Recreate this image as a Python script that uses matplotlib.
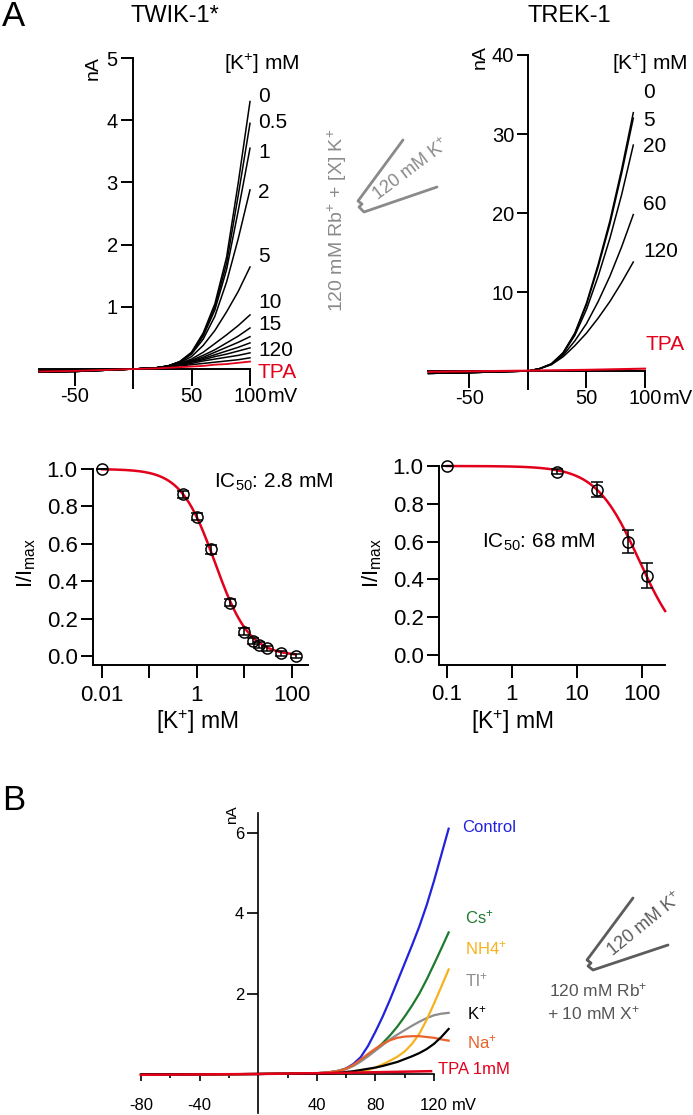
import matplotlib
matplotlib.use('Agg')
import matplotlib.pyplot as plt
import numpy as np
from matplotlib.lines import Line2D
from matplotlib.ticker import NullLocator

plt.rcParams['font.family'] = ['Liberation Sans', 'DejaVu Sans']
plt.rcParams['mathtext.fontset'] = 'custom'
plt.rcParams['mathtext.rm'] = 'Liberation Sans'
plt.rcParams['mathtext.it'] = 'Liberation Sans:italic'
plt.rcParams['mathtext.bf'] = 'Liberation Sans:bold'

# ---------------- data ----------------
# A, TWIK-1* I-V traces (nA) at voltages (mV)
twik_v = [-80, -50, -25, 0, 20, 30, 40, 50, 60, 70, 80, 90, 100]
twik_conc = ['0', '0.5', '1', '2', '5', '10', '15', '20', '30', '40', '60', '120']
twik_I = [
    [-0.05, -0.04, -0.02, 0, 0.02, 0.05, 0.12, 0.27, 0.58, 1.05, 1.80, 3.00, 4.30],
    [-0.05, -0.04, -0.02, 0, 0.02, 0.05, 0.12, 0.26, 0.55, 1.00, 1.70, 2.80, 3.95],
    [-0.05, -0.04, -0.02, 0, 0.02, 0.05, 0.11, 0.25, 0.53, 0.95, 1.60, 2.55, 3.55],
    [-0.05, -0.04, -0.02, 0, 0.02, 0.05, 0.11, 0.24, 0.48, 0.85, 1.40, 2.10, 2.88],
    [-0.04, -0.03, -0.02, 0, 0.02, 0.05, 0.10, 0.20, 0.38, 0.62, 0.92, 1.25, 1.64],
    [-0.04, -0.03, -0.02, 0, 0.02, 0.04, 0.09, 0.16, 0.27, 0.41, 0.55, 0.70, 0.87],
    [-0.04, -0.03, -0.02, 0, 0.02, 0.04, 0.08, 0.14, 0.22, 0.31, 0.42, 0.53, 0.66],
    [-0.04, -0.03, -0.02, 0, 0.02, 0.04, 0.08, 0.13, 0.19, 0.27, 0.35, 0.43, 0.52],
    [-0.03, -0.03, -0.01, 0, 0.02, 0.04, 0.07, 0.12, 0.17, 0.23, 0.29, 0.35, 0.42],
    [-0.03, -0.02, -0.01, 0, 0.02, 0.04, 0.07, 0.11, 0.15, 0.20, 0.24, 0.29, 0.34],
    [-0.03, -0.02, -0.01, 0, 0.02, 0.04, 0.06, 0.09, 0.13, 0.16, 0.19, 0.22, 0.26],
    [-0.03, -0.02, -0.01, 0, 0.02, 0.03, 0.05, 0.07, 0.09, 0.11, 0.13, 0.15, 0.18],
]
twik_tpa = [-0.04, -0.03, -0.015, 0, 0.01, 0.02, 0.03, 0.04, 0.05, 0.07, 0.08, 0.10, 0.12]

# A, TREK-1 I-V traces
trek_v = [-85, -50, -25, 0, 10, 20, 30, 40, 50, 60, 70, 80, 90]
trek_conc = ['0', '5', '20', '60', '120']
trek_I = [
    [-0.3, -0.2, -0.1, 0, 0.3, 0.9, 2.3, 4.8, 8.6, 13.5, 19.0, 25.5, 32.7],
    [-0.3, -0.2, -0.1, 0, 0.3, 0.9, 2.3, 4.7, 8.4, 13.2, 18.6, 25.0, 32.0],
    [-0.3, -0.2, -0.1, 0, 0.3, 0.9, 2.2, 4.5, 7.8, 12.0, 16.8, 22.3, 28.6],
    [-0.3, -0.2, -0.1, 0, 0.3, 0.85, 2.0, 3.8, 6.0, 8.8, 12.0, 15.7, 19.8],
    [-0.3, -0.2, -0.1, 0, 0.3, 0.8, 1.8, 3.2, 4.8, 6.7, 8.8, 11.2, 13.8],
]
trek_tpa_v = [-85, 0, 50, 100]
trek_tpa = [-0.1, 0.05, 0.15, 0.3]

# A, dose-response
twik_dr_k = [0.01, 0.5, 1, 2, 5, 10, 15, 20, 30, 60, 120]
twik_dr_y = [1.0, 0.865, 0.745, 0.57, 0.285, 0.13, 0.082, 0.059, 0.041, 0.014, 0.0]
twik_dr_err = [0.0, 0.02, 0.02, 0.025, 0.02, 0.02, 0.015, 0.015, 0.015, 0.012, 0.012]
twik_ic50_fit, twik_hill = 2.4, 1.2

trek_dr_k = [0.1, 5, 20, 60, 120]
trek_dr_y = [1.0, 0.97, 0.875, 0.60, 0.42]
trek_dr_err = [0.0, 0.012, 0.04, 0.06, 0.065]
trek_ic50_fit, trek_hill = 90.0, 1.3

# B, TWIK-1* I-V with 10 mM X+
b_v = [-80, -40, 0, 20, 40, 45, 50, 55, 60, 65, 70, 75, 80, 85, 90, 95, 100,
       105, 110, 115, 120, 125, 130]
b_I = {
    'Control': [-0.02, -0.01, 0, 0.01, 0.02, 0.03, 0.05, 0.08, 0.14, 0.25, 0.42, 0.70, 1.05,
                1.43, 1.85, 2.30, 2.75, 3.20, 3.67, 4.20, 4.80, 5.45, 6.10],
    'Cs':      [-0.02, -0.01, 0, 0.01, 0.02, 0.03, 0.05, 0.08, 0.13, 0.22, 0.33, 0.46, 0.60,
                0.77, 0.96, 1.18, 1.43, 1.70, 2.00, 2.35, 2.73, 3.12, 3.52],
    'NH4':     [-0.02, -0.01, 0, 0.01, 0.01, 0.01, 0.01, 0.02, 0.03, 0.04, 0.06, 0.10, 0.16,
                0.24, 0.33, 0.43, 0.56, 0.75, 1.00, 1.35, 1.75, 2.17, 2.60],
    'Tl':      [-0.02, -0.01, 0, 0.01, 0.02, 0.03, 0.05, 0.08, 0.12, 0.20, 0.31, 0.44, 0.58,
                0.72, 0.86, 0.98, 1.09, 1.20, 1.30, 1.39, 1.46, 1.50, 1.52],
    'K':       [-0.02, -0.01, 0, 0.01, 0.01, 0.01, 0.02, 0.03, 0.05, 0.07, 0.10, 0.13, 0.16,
                0.20, 0.25, 0.30, 0.37, 0.44, 0.52, 0.62, 0.75, 0.92, 1.12],
    'Na':      [-0.02, -0.01, 0, 0.01, 0.02, 0.03, 0.05, 0.08, 0.13, 0.23, 0.36, 0.50, 0.63,
                0.75, 0.84, 0.90, 0.93, 0.94, 0.94, 0.92, 0.90, 0.86, 0.83],
}
b_tpa_v = [-80, 0, 60, 118]
b_tpa = [-0.02, 0, 0.03, 0.07]

# ---------------- layout helpers ----------------
W, H = 693, 1115
fig = plt.figure(figsize=(W / 100, H / 100), dpi=100)


def rect(x0, y0, x1, y1):
    return [x0 / W, 1 - y1 / H, (x1 - x0) / W, (y1 - y0) / H]


def ftext(x, y, s, **kw):
    fig.text(x / W, 1 - y / H, s, **kw)


def fline(pts, **kw):
    xs = [p[0] / W for p in pts]
    ys = [1 - p[1] / H for p in pts]
    fig.add_artist(Line2D(xs, ys, transform=fig.transFigure, **kw))


RED = '#e3001b'
LW_AX = 1.4


def cross_axes(ax):
    ax.spines['left'].set_position(('data', 0))
    ax.spines['bottom'].set_position(('data', 0))
    for s in ['top', 'right']:
        ax.spines[s].set_visible(False)
    for s in ['left', 'bottom']:
        ax.spines[s].set_linewidth(LW_AX)
    ax.patch.set_alpha(0)


# ---------------- A: TWIK-1* ----------------
ax1 = fig.add_axes(rect(39.4, 58, 250, 387.7))
cross_axes(ax1)
ax1.set_xlim(-80, 100)
ax1.set_ylim(-0.3, 5)
for row in twik_I:
    ax1.plot(twik_v, row, color='black', lw=1.1, clip_on=False)
ax1.plot(twik_v, twik_tpa, color=RED, lw=1.3, clip_on=False, zorder=5)
ax1.set_xticks([-50, 50, 100])
ax1.set_xticklabels(['-50', '50', '100'])
ax1.set_yticks([1, 2, 3, 4, 5])
ax1.set_yticklabels(['1', '2', '3', '4', '5'])
ax1.tick_params(axis='x', direction='out', length=12, width=LW_AX, pad=1, labelsize=14.5)
ax1.tick_params(axis='y', direction='out', length=9, width=LW_AX, pad=2, labelsize=14.5)
ax1.annotate('mV', xy=(100, 0), xycoords='data', xytext=(12.5, -13), textcoords='offset points',
             ha='left', va='top', fontsize=14.5)

ftext(175, 16, 'TWIK-1*', ha='center', va='center', fontsize=17)
ftext(2, 16, 'A', ha='left', va='center', fontsize=25)
ftext(93, 68, 'nA', ha='center', va='center', rotation=90, fontsize=14)
ftext(262, 64, '[K$^{+}$] mM', ha='center', va='center', fontsize=15)
twik_label_y = {'0': 97, '0.5': 122, '1': 153, '2': 193, '5': 257, '10': 302, '15': 325, '120': 350}
for lab, yy in twik_label_y.items():
    ftext(258, yy, lab, ha='left', va='center', fontsize=15)
ftext(258, 373, 'TPA', ha='left', va='center', fontsize=15, color=RED)

# middle solution text + pipette
ftext(337, 220, '120 mM Rb$^{+}$ + [X] K$^{+}$', ha='center', va='center', rotation=90,
      fontsize=14, color='#8a8a8a')
fline([(403, 140), (358, 201), (362, 204), (359, 207), (364, 212), (437, 187)],
      color='#8a8a8a', lw=2.0, solid_capstyle='round')
ftext(411, 170, '120 mM K$^{+}$', ha='center', va='center', rotation=37, fontsize=13,
      color='#8a8a8a')

# ---------------- A: TREK-1 ----------------
ax2 = fig.add_axes(rect(428.5, 55, 645, 389.2))
cross_axes(ax2)
ax2.set_xlim(-85, 100)
ax2.set_ylim(-2.3, 40)
for row in trek_I:
    ax2.plot(trek_v, row, color='black', lw=1.1, clip_on=False)
ax2.plot(trek_tpa_v, trek_tpa, color=RED, lw=1.5, clip_on=False, zorder=5)
ax2.set_xticks([-50, 50, 100])
ax2.set_xticklabels(['-50', '50', '100'])
ax2.set_yticks([10, 20, 30, 40])
ax2.set_yticklabels(['10', '20', '30', '40'])
ax2.tick_params(axis='x', direction='out', length=12, width=LW_AX, pad=1, labelsize=14.5)
ax2.tick_params(axis='y', direction='out', length=8, width=LW_AX, pad=2, labelsize=14.5)
ax2.annotate('mV', xy=(100, 0), xycoords='data', xytext=(12.5, -13), textcoords='offset points',
             ha='left', va='top', fontsize=14.5)
ftext(569, 16, 'TREK-1', ha='center', va='center', fontsize=17)
ftext(480, 57, 'nA', ha='center', va='center', rotation=90, fontsize=14)
ftext(650, 64, '[K$^{+}$] mM', ha='center', va='center', fontsize=15)
trek_label_y = {'0': 93, '5': 120, '20': 147, '60': 205, '120': 252}
for lab, yy in trek_label_y.items():
    ftext(643, yy, lab, ha='left', va='center', fontsize=15)
ftext(646, 345, 'TPA', ha='left', va='center', fontsize=15, color=RED)


# ---------------- dose response ----------------
def dose_axes(r, xlim, xt, xtl, k, y, err, ic50, nh, xfit_max, ic_text, ic_xy, ylab_x, xlab_xy):
    ax = fig.add_axes(rect(*r))
    ax.set_xscale('log')
    ax.set_xlim(*xlim)
    ax.set_ylim(-0.05, 1.0)
    for s in ['top', 'right']:
        ax.spines[s].set_visible(False)
    for s in ['left', 'bottom']:
        ax.spines[s].set_linewidth(LW_AX)
    ax.patch.set_alpha(0)
    xf = np.logspace(np.log10(k[0]), np.log10(xfit_max), 300)
    ax.plot(xf, 1.0 / (1.0 + (xf / ic50) ** nh), color=RED, lw=1.8, clip_on=False, zorder=2)
    ax.errorbar(k, y, yerr=err, fmt='o', mfc='none', mec='black', ecolor='black', ms=8,
                mew=1.1, capsize=4, elinewidth=1.1, capthick=1.1, clip_on=False, zorder=3)
    ax.set_xticks(xt)
    ax.set_xticklabels(xtl)
    ax.xaxis.set_minor_locator(NullLocator())
    ax.set_yticks([0, 0.2, 0.4, 0.6, 0.8, 1.0])
    ax.set_yticklabels(['0.0', '0.2', '0.4', '0.6', '0.8', '1.0'])
    ax.tick_params(axis='both', direction='out', length=9, width=LW_AX, labelsize=16)
    ax.tick_params(axis='x', pad=5)
    ax.tick_params(axis='y', pad=2)
    ftext(ic_xy[0], ic_xy[1], ic_text, ha='center', va='center', fontsize=15)
    ftext(ylab_x, 563, 'I/I$_{\\mathrm{max}}$', ha='center', va='center', rotation=90, fontsize=16)
    ftext(xlab_xy[0], xlab_xy[1], '[K$^{+}$] mM', ha='center', va='center', fontsize=16.5)
    return ax


dose_axes((93, 469, 308, 665.4), (10 ** -2.19, 10 ** 2.34), [0.01, 0.1, 1, 10, 100],
          ['0.01', '', '1', '', '100'], twik_dr_k, twik_dr_y, twik_dr_err,
          twik_ic50_fit, twik_hill, 120, 'IC$_{50}$: 2.8 mM', (274, 482), 26, (197, 722))
dose_axes((439, 466, 665, 664.5), (10 ** -1.12, 10 ** 2.35), [0.1, 1, 10, 100],
          ['0.1', '1', '10', '100'], trek_dr_k, trek_dr_y, trek_dr_err,
          trek_ic50_fit, trek_hill, 225, 'IC$_{50}$: 68 mM', (539, 542), 372, (512, 722))

# ---------------- B ----------------
axb = fig.add_axes(rect(141, 813, 434, 1113))
cross_axes(axb)
axb.set_xlim(-80, 120)
axb.set_ylim(-0.97, 6.49)
b_colors = {'Control': '#2222dd', 'Cs': '#1e7a2e', 'NH4': '#f6b21e', 'Tl': '#8c8c8c',
            'K': '#000000', 'Na': '#e8622a'}
order = ['Control', 'Cs', 'Tl', 'NH4', 'Na', 'K']
for nm in order:
    axb.plot(b_v, b_I[nm], color=b_colors[nm], lw=1.6, clip_on=False)
axb.plot(b_tpa_v, b_tpa, color=RED, lw=1.8, clip_on=False, zorder=5)
axb.set_xticks([-80, -40, 40, 80, 120])
axb.set_xticklabels(['-80', '-40', '40', '80', '120'])
axb.set_xticks([-60, -20, 20, 60, 100], minor=True)
axb.set_yticks([2, 4, 6])
axb.set_yticklabels(['2', '4', '6'])
axb.tick_params(axis='x', which='major', direction='out', length=5, width=1.2, pad=12, labelsize=12)
axb.tick_params(axis='x', which='minor', direction='out', length=3, width=1.2)
axb.tick_params(axis='y', direction='out', length=8, width=1.2, pad=2, labelsize=12)
axb.spines['left'].set_linewidth(1.2)
axb.spines['bottom'].set_linewidth(1.2)
axb.annotate('mV', xy=(120, 0), xycoords='data', xytext=(13, -17), textcoords='offset points',
             ha='left', va='top', fontsize=12)
ftext(2, 800, 'B', ha='left', va='center', fontsize=25)
ftext(232, 815, 'nA', ha='center', va='center', rotation=90, fontsize=11)

b_text = [('Control', 'Control', 462, 828), ('Cs', 'Cs$^{+}$', 465, 917),
          ('NH4', 'NH4$^{+}$', 465, 948), ('Tl', 'Tl$^{+}$', 465, 980),
          ('K', 'K$^{+}$', 467, 1013), ('Na', 'Na$^{+}$', 467, 1042)]
for key, s, xx, yy in b_text:
    ftext(xx, yy, s, ha='left', va='center', fontsize=12, color=b_colors[key])
ftext(438, 1070, 'TPA 1mM', ha='left', va='center', fontsize=12, color=RED)

fline([(633, 898), (587, 960), (591, 963), (588, 966), (593, 970), (668, 945)],
      color='#5c5c5c', lw=2.0, solid_capstyle='round')
ftext(645, 925, '120 mM K$^{+}$', ha='center', va='center', rotation=39, fontsize=13,
      color='#5c5c5c')
ftext(549, 990, '120 mM Rb$^{+}$', ha='left', va='center', fontsize=12.5, color='#555555')
ftext(547, 1013, '+ 10 mM X$^{+}$', ha='left', va='center', fontsize=12.5, color='#555555')

fig.savefig('out.png', dpi=100)
